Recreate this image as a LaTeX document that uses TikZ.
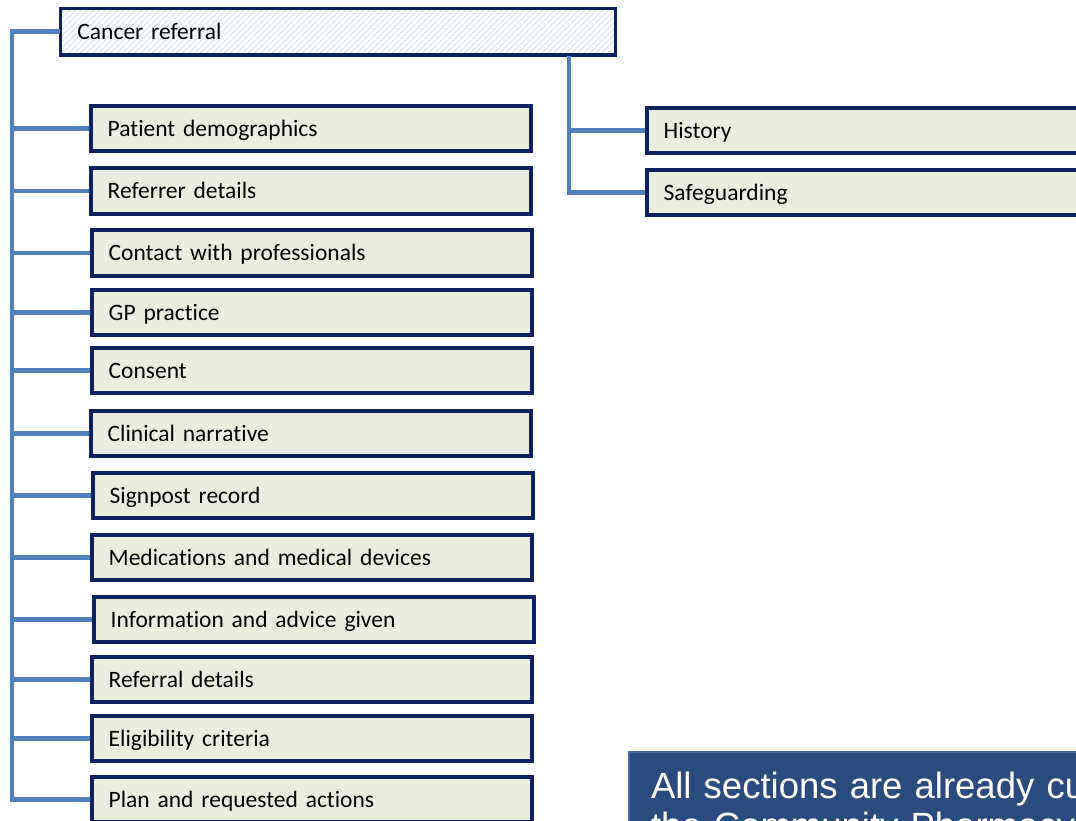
\documentclass[tikz,border=0pt]{standalone}
\usepackage{fontspec}
\setmainfont{Carlito}[Ligatures=NoCommon]
\newfontfamily\arialf{Liberation Sans}
\usetikzlibrary{patterns.meta}
\definecolor{navy}{RGB}{11,33,96}
\definecolor{conn}{RGB}{79,129,189}
\definecolor{boxfill}{RGB}{235,238,222}
\definecolor{hatch}{RGB}{212,230,240}
\definecolor{notefill}{RGB}{41,75,126}
\definecolor{noteborder}{RGB}{70,105,154}
\tikzset{
  secbox/.style={draw=navy, line width=3.8pt, fill=boxfill, rectangle, anchor=north west,
    minimum width=440pt, minimum height=45.5pt, inner xsep=17pt, inner ysep=0pt,
    text width=406pt, align=left, text height=20pt, text depth=4pt,
    font=\fontsize{23.5}{26}\selectfont},
  rootbox/.style={draw=navy, line width=3.8pt, rectangle, anchor=north west,
    preaction={fill=white},
    pattern={Lines[angle=45,distance=4pt,line width=1.3pt]}, pattern color=hatch,
    minimum width=555pt, minimum height=46.5pt, inner xsep=17pt, inner ysep=0pt,
    text width=521pt, align=left, text height=20pt, text depth=4pt,
    font=\fontsize{23.5}{26}\selectfont},
  link/.style={draw=conn, line width=4.5pt},
  notebox/.style={draw=noteborder, line width=2pt, fill=notefill, rectangle, anchor=north west,
    inner xsep=22pt, inner ysep=20pt,
    text width=900pt, align=left, text=white, font=\arialf\fontsize{36.5}{40}\selectfont}
}
\begin{document}
\begin{tikzpicture}[x=1pt,y=-1pt]
\useasboundingbox (0,0) rectangle (1076,820);
\clip (0,0) rectangle (1076,820);
% root
\node[rootbox] (cr) at (59.8,7.8) {Cancer referral};
% left sections
\node[secbox] (b1) at (88.8,103.8) {Patient demographics};
\node[secbox] (b2) at (88.8,166.3) {Referrer details};
\node[secbox] (b3) at (89.8,228.3) {Contact with professionals};
\node[secbox] (b4) at (89.8,287.8) {GP practice};
\node[secbox] (b5) at (89.8,345.8) {Consent};
\node[secbox] (b6) at (88.8,408.8) {Clinical narrative};
\node[secbox] (b7) at (90.8,470.8) {Signpost record};
\node[secbox] (b8) at (89.8,532.8) {Medications and medical devices};
\node[secbox] (b9) at (91.8,594.8) {Information and advice given};
\node[secbox] (b10) at (89.8,654.8) {Referral details};
\node[secbox] (b11) at (89.8,713.8) {Eligibility criteria};
\node[secbox] (b12) at (89.8,774.8) {Plan and requested actions};
% right sections
\node[secbox] (hist) at (644.8,105.8) {History};
\node[secbox] (saf) at (644.8,167.8) {Safeguarding};
% note
\node[notebox] (note) at (628,751) {All sections are already currently used in\\the Community Pharmacy};
% connectors
\coordinate (L) at (12,0);
\coordinate (R) at (569,0);
\draw[link] (cr.west) -- (cr.west -| L) |- (b12.west);
\foreach \b in {b1,b2,b3,b4,b5,b6,b7,b8,b9,b10,b11}{
  \draw[link] (\b.west -| L) -- (\b.west);
}
\draw[link] (cr.south -| R) |- (saf.west);
\draw[link] (hist.west -| R) -- (hist.west);
\end{tikzpicture}
\end{document}
